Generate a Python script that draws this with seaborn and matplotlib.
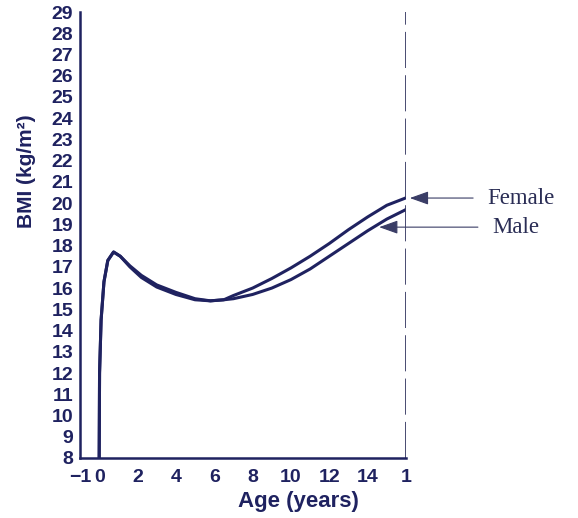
import numpy as np
import pandas as pd
import matplotlib
matplotlib.use("Agg")
import matplotlib.pyplot as plt
import seaborn as sns

# ! datos ----------------------------------------------------------------

edad_inicio = [0.0, 0.02, 0.1, 0.25, 0.45, 0.75, 1.1, 1.6, 2.2, 3.0, 4.0, 5.0, 5.8, 6.5]
imc_inicio_mujer = [8.0, 12.0, 14.5, 16.3, 17.3, 17.7, 17.5, 17.0, 16.5, 16.05, 15.7, 15.45, 15.4, 15.45]
imc_inicio_hombre = [8.0, 12.0, 14.5, 16.3, 17.3, 17.7, 17.5, 17.05, 16.6, 16.15, 15.8, 15.5, 15.4, 15.45]

edad_fin = [7, 8, 9, 10, 11, 12, 13, 14, 15, 16]
imc_mujer = [15.65, 16.0, 16.45, 16.95, 17.5, 18.1, 18.75, 19.35, 19.9, 20.25]
imc_hombre = [15.5, 15.7, 16.0, 16.4, 16.9, 17.5, 18.1, 18.7, 19.25, 19.7]

xticks = [-1, 0, 2, 4, 6, 8, 10, 12, 14, 16]
xtick_labels = ["\u22121", "0", "2", "4", "6", "8", "10", "12", "14", "1"]
yticks = list(range(8, 30))

etiquetas = ["Female", "Male"]
flecha_xy = [(16.2, 20.24), (14.6, 18.87)]
texto_xy = [(20.25, 20.24), (20.5, 18.87)]

# ? armar tabla -------------------------------------------------------------

df = pd.DataFrame({
    "edad": edad_inicio + edad_fin + edad_inicio + edad_fin,
    "imc": imc_inicio_mujer + imc_mujer + imc_inicio_hombre + imc_hombre,
    "sexo": ["Female"] * (len(edad_inicio) + len(edad_fin)) + ["Male"] * (len(edad_inicio) + len(edad_fin)),
})

azul = "#1f2260"

sns.set_style("white")
plt.rcParams["font.family"] = ["Liberation Sans", "DejaVu Sans"]

fig = plt.figure(figsize=(5.78, 5.18), dpi=100)
ax = fig.add_axes([80 / 578, 1 - 458 / 518, 326 / 578, 446 / 518])

sns.lineplot(data=df, x="edad", y="imc", hue="sexo", palette=[azul, azul],
             linewidth=2.2, legend=False, ax=ax, sort=False, estimator=None)

ax.set_xlim(-1, 16)
ax.set_ylim(8, 29)

ax.set_xticks(xticks)
ax.set_xticklabels(xtick_labels, fontsize=14, fontweight="bold", color=azul)
ax.set_xticks(range(1, 16, 2), minor=True)
ax.set_yticks(yticks)
ax.set_yticklabels([str(v) for v in yticks], fontsize=14, fontweight="bold", color=azul)

ax.tick_params(axis="x", which="major", direction="in", length=11, width=1.5, color=azul, pad=8)
ax.tick_params(axis="x", which="minor", direction="in", length=6, width=1.5, color=azul)
ax.tick_params(axis="y", direction="in", length=14, width=1.5, color=azul, pad=5)

for lado in ["top", "right"]:
    ax.spines[lado].set_visible(False)
for lado in ["left", "bottom"]:
    ax.spines[lado].set_color(azul)
    ax.spines[lado].set_linewidth(1.8)

# linea vertical cortada en el borde derecho
ax.axvline(16, color="#3a3d66", lw=1.3, ls=(0, (20, 4)))

ax.set_xlabel("Age (years)", fontsize=16, fontweight="bold", color=azul)
ax.set_ylabel("BMI (kg/m²)", fontsize=15, fontweight="bold", color=azul)
ax.xaxis.set_label_coords(0.67, -0.075)
ax.yaxis.set_label_coords(-0.135, 0.643)

for etiqueta, xy, xyt in zip(etiquetas, flecha_xy, texto_xy):
    ax.annotate(etiqueta, xy=xy, xytext=xyt, ha="left", va="center",
                fontsize=16.5, family=["Liberation Serif", "DejaVu Serif"], color="#2a2d55",
                annotation_clip=False,
                arrowprops=dict(arrowstyle="-|>,head_length=0.7,head_width=0.25",
                                color="#3a3d66", lw=0.8, shrinkA=8, shrinkB=0))

fig.savefig("out.png", dpi=100)
